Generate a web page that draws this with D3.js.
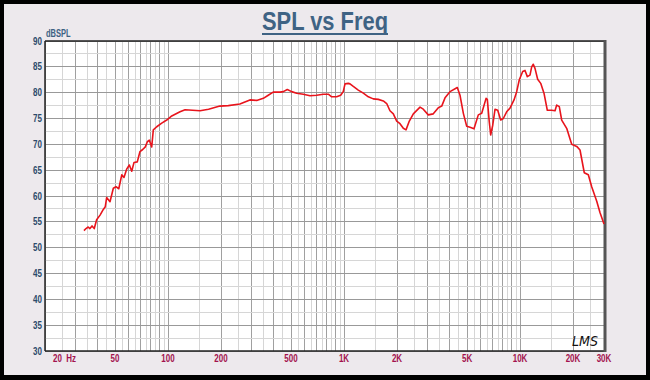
<!DOCTYPE html>
<html>
<head>
<meta charset="utf-8">
<script src="https://cdn.jsdelivr.net/npm/d3@7/dist/d3.min.js"></script>
<style>
  html, body { margin: 0; padding: 0; background: #000; }
  svg { display: block; }
</style>
</head>
<body>
<svg id="chart" width="650" height="380"></svg>
<script>
// ---- data ----
const freqs = [33.3, 34.2, 35.2, 36.0, 37.0, 38.1, 39.3, 41.1, 42.9, 44.0, 44.8, 46.8, 48.9, 50.6, 52.5, 54.6, 56.2, 58.2, 60.3, 62.2, 64.1, 66.9, 69.3, 71.8, 74.3, 76.3, 78.3, 80.8, 82.5, 86.3, 92.1, 98.3, 105, 117, 125, 152, 170, 197, 220, 256, 292, 319, 348, 371, 396, 433, 452, 476, 504, 538, 587, 641, 699, 762, 814, 851, 908, 957, 990, 1013, 1057, 1081, 1129, 1205, 1287, 1374, 1466, 1566, 1672, 1748, 1824, 1906, 1992, 2080, 2172, 2250, 2350, 2476, 2703, 2820, 3011, 3215, 3434, 3590, 3749, 4000, 4402, 4560, 4764, 4978, 5200, 5476, 5794, 6058, 6412, 6518, 6686, 6812, 6998, 7212, 7468, 7764, 8036, 8396, 8770, 9244, 9572, 9908, 10354, 10674, 11000, 11392, 11648, 11892, 12164, 12594, 13108, 13682, 14290, 15134, 15810, 16158, 16716, 17250, 18412, 19660, 21000, 21920, 23180, 24440, 25540, 27280, 28460, 30000];
const spl = [53.3, 53.7, 54.0, 53.7, 54.2, 53.7, 55.4, 56.3, 57.4, 57.9, 59.7, 58.9, 61.5, 61.8, 61.4, 64.1, 63.6, 65.2, 66.0, 64.8, 66.5, 66.6, 68.6, 69.0, 69.5, 70.5, 70.8, 69.5, 72.8, 73.4, 74.1, 74.7, 75.5, 76.3, 76.7, 76.5, 76.8, 77.4, 77.5, 77.8, 78.6, 78.5, 78.9, 79.5, 80.1, 80.1, 80.2, 80.6, 80.2, 79.9, 79.7, 79.4, 79.5, 79.7, 79.7, 79.2, 79.2, 79.5, 80.2, 81.7, 81.8, 81.7, 81.2, 80.5, 79.9, 79.2, 78.8, 78.7, 78.4, 77.9, 76.5, 75.9, 74.5, 74.0, 73.1, 72.8, 74.5, 75.9, 77.2, 76.8, 75.7, 75.9, 77.1, 77.4, 79.0, 80.2, 81.0, 79.5, 76.0, 73.5, 73.3, 73.0, 75.7, 76.0, 78.9, 78.7, 74.4, 71.8, 73.7, 76.8, 76.6, 74.7, 75.0, 76.3, 77.0, 78.6, 80.2, 82.5, 84.1, 84.3, 83.1, 83.4, 85.0, 85.5, 84.7, 82.6, 81.8, 79.9, 76.6, 76.6, 76.5, 77.6, 77.3, 74.7, 73.1, 70.0, 69.6, 68.9, 64.5, 64.1, 61.8, 59.0, 56.8, 54.6];

const yTicks = [30, 35, 40, 45, 50, 55, 60, 65, 70, 75, 80, 85, 90];
const xTickValues = [20, 50, 100, 200, 500, 1000, 2000, 5000, 10000, 20000, 30000];
const xTickLabels = ["20  Hz", "50", "100", "200", "500", "1K", "2K", "5K", "10K", "20K", "30K"];
const titleText = "SPL vs Freq";
const yUnit = "dBSPL";
const signature = "LMS";

// grid frequencies (log chart paper)
const gridFreqs = [];
for (let f = 20; f <= 100; f += 5) gridFreqs.push(f);
gridFreqs.push(150);
for (let f = 200; f <= 1000; f += 50) gridFreqs.push(f);
gridFreqs.push(1500);
for (let f = 2000; f <= 10000; f += 500) gridFreqs.push(f);
gridFreqs.push(15000, 20000, 25000, 30000);
const gridLevels = d3.range(30, 90.01, 2.5);

// ---- layout ----
const W = 650, H = 380;
const L = 45, R = 604, T = 41, B = 351;
const svg = d3.select("#chart");

const x = d3.scaleLog().domain([20, 30000]).range([L, R]);
const y = d3.scaleLinear().domain([30, 90]).range([B, T]);

// panel
svg.append("rect").attr("x", 0).attr("y", 0).attr("width", W).attr("height", H).attr("fill", "#000");
svg.append("rect").attr("x", 4).attr("y", 4).attr("width", W - 8).attr("height", H - 9).attr("fill", "#ede9ed");

// plot area
svg.append("rect").attr("x", L).attr("y", T).attr("width", R - L).attr("height", B - T).attr("fill", "#fff");

const isMajorF = f => { const p = Math.pow(10, Math.floor(Math.log10(f) + 1e-9)); return Math.abs(f / p - Math.round(f / p)) < 1e-6; };

const g = svg.append("g");
g.selectAll("line.vg").data(gridFreqs).join("line")
  .attr("x1", d => x(d)).attr("x2", d => x(d))
  .attr("y1", T).attr("y2", B)
  .attr("stroke", d => isMajorF(d) ? "#a0a0a0" : "#d6d6d6")
  .attr("stroke-width", 1)
  .attr("shape-rendering", "crispEdges");

g.selectAll("line.hg").data(gridLevels).join("line")
  .attr("x1", L).attr("x2", R)
  .attr("y1", d => y(d)).attr("y2", d => y(d))
  .attr("stroke", d => d % 5 === 0 ? "#999" : "#d6d6d6")
  .attr("stroke-width", 1)
  .attr("shape-rendering", "crispEdges");

// frame
svg.append("line").attr("x1", L).attr("x2", L).attr("y1", T).attr("y2", B).attr("stroke", "#222").attr("stroke-width", 1.5);
svg.append("line").attr("x1", L).attr("x2", R).attr("y1", T).attr("y2", T).attr("stroke", "#222").attr("stroke-width", 1.5);
svg.append("line").attr("x1", L).attr("x2", R).attr("y1", B).attr("y2", B).attr("stroke", "#222").attr("stroke-width", 1.5);
svg.append("line").attr("x1", R + 1).attr("x2", R + 1).attr("y1", T - 1).attr("y2", B + 1).attr("stroke", "#555").attr("stroke-width", 3);

// curve
const pts = freqs.map((f, i) => [f, spl[i]]);
svg.append("path").datum(pts)
  .attr("fill", "none")
  .attr("stroke", "#e8141c")
  .attr("stroke-width", 1.6)
  .attr("stroke-linejoin", "round")
  .attr("d", d3.line().x(d => x(d[0])).y(d => y(d[1])));

// y axis labels
svg.selectAll("text.yl").data(yTicks).join("text")
  .attr("transform", d => `translate(42,${y(d) + 3.5}) scale(0.8,1)`)
  .attr("text-anchor", "end")
  .attr("font-family", "Liberation Sans, Arial, sans-serif")
  .attr("font-weight", "bold")
  .attr("font-size", 10)
  .attr("fill", "#2c4a6a")
  .text(d => d);

svg.append("text")
  .attr("transform", `translate(46,37) scale(0.75,1)`)
  .attr("font-family", "Liberation Sans, Arial, sans-serif")
  .attr("font-weight", "bold")
  .attr("font-size", 10)
  .attr("fill", "#3d6283")
  .text(yUnit);

// x axis labels
svg.selectAll("text.xl").data(xTickValues).join("text")
  .attr("transform", (d, i) => i === 0 ? `translate(${x(d) + 8},362) scale(0.8,1)` : `translate(${x(d)},362) scale(0.8,1)`)
  .attr("text-anchor", (d, i) => i === 0 ? "start" : "middle")
  .attr("font-family", "Liberation Sans, Arial, sans-serif")
  .attr("font-weight", "bold")
  .attr("font-size", 10)
  .attr("fill", "#a3124e")
  .attr("xml:space", "preserve")
  .style("white-space", "pre")
  .text((d, i) => xTickLabels[i]);

// title
svg.append("text")
  .attr("x", 325).attr("y", 30)
  .attr("text-anchor", "middle")
  .attr("font-family", "Liberation Sans, Arial, sans-serif")
  .attr("font-weight", "bold")
  .attr("font-size", 25)
  .attr("fill", "#3f6384")
  .attr("textLength", 126)
  .attr("lengthAdjust", "spacingAndGlyphs")
  .text(titleText);
svg.append("line").attr("x1", 262).attr("x2", 388).attr("y1", 34).attr("y2", 34)
  .attr("stroke", "#3f6384").attr("stroke-width", 2);

// signature
svg.append("text")
  .attr("x", 572).attr("y", 346)
  .attr("font-family", "DejaVu Sans, sans-serif")
  .attr("font-style", "italic")
  .attr("font-weight", "normal")
  .attr("font-size", 14)
  .attr("fill", "#111")
  .attr("textLength", 26)
  .attr("lengthAdjust", "spacingAndGlyphs")
  .text(signature);
</script>
</body>
</html>
